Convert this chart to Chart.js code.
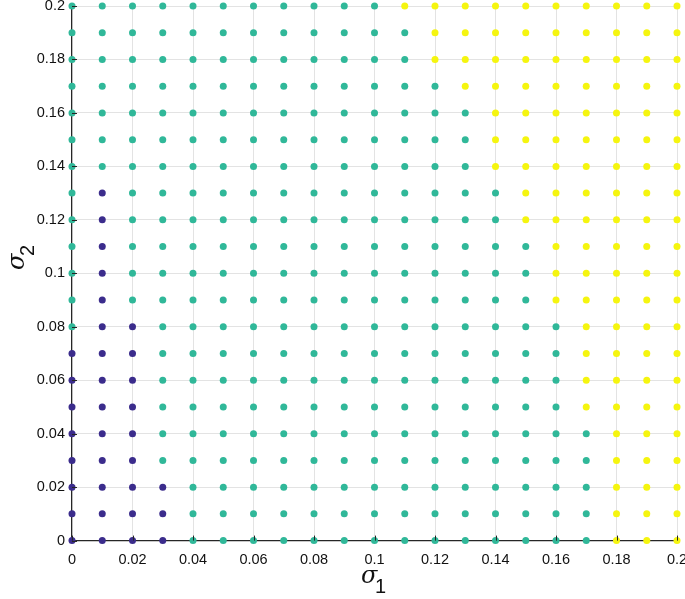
<!DOCTYPE html>
<html>
<head>
<meta charset="utf-8">
<script src="https://cdn.jsdelivr.net/npm/chart.js@4/dist/chart.umd.min.js"></script>
<style>
  html, body { margin: 0; padding: 0; background: #fff; }
  #wrap { width: 685px; height: 599px; position: relative; }
</style>
</head>
<body>
<div id="wrap"><canvas id="map-chart"></canvas></div>
<script>
// sigma grid values (both axes)
var sigmaValues = [0, 0.01, 0.02, 0.03, 0.04, 0.05, 0.06, 0.07, 0.08, 0.09, 0.1,
  0.11, 0.12, 0.13, 0.14, 0.15, 0.16, 0.17, 0.18, 0.19, 0.2];

// tick labels
var tickLabels = ["0", "0.02", "0.04", "0.06", "0.08", "0.1", "0.12", "0.14", "0.16", "0.18", "0.2"];

// class of each point, rows from sigma2 = 0.2 (top) down to 0 (bottom),
// columns sigma1 = 0 .. 0.2   (B = dark blue, T = teal, Y = yellow)
var classRows = [
  "TTTTTTTTTTTYYYYYYYYYY", // 0.20
  "TTTTTTTTTTTTYYYYYYYYY", // 0.19
  "TTTTTTTTTTTTYYYYYYYYY", // 0.18
  "TTTTTTTTTTTTTYYYYYYYY", // 0.17
  "TTTTTTTTTTTTTTYYYYYYY", // 0.16
  "TTTTTTTTTTTTTTYYYYYYY", // 0.15
  "TTTTTTTTTTTTTTYYYYYYY", // 0.14
  "TBTTTTTTTTTTTTTYYYYYY", // 0.13
  "TBTTTTTTTTTTTTTYYYYYY", // 0.12
  "TBTTTTTTTTTTTTTTYYYYY", // 0.11
  "TBTTTTTTTTTTTTTTYYYYY", // 0.10
  "TBTTTTTTTTTTTTTTYYYYY", // 0.09
  "TBBTTTTTTTTTTTTTTYYYY", // 0.08
  "BBBTTTTTTTTTTTTTTYYYY", // 0.07
  "BBBTTTTTTTTTTTTTTYYYY", // 0.06
  "BBBTTTTTTTTTTTTTTYYYY", // 0.05
  "BBBTTTTTTTTTTTTTTTYYY", // 0.04
  "BBBTTTTTTTTTTTTTTTYYY", // 0.03
  "BBBBTTTTTTTTTTTTTTYYY", // 0.02
  "BBBBTTTTTTTTTTTTTTYYY", // 0.01
  "BBBBTTTTTTTTTTTTTTYYY"  // 0.00
];

var classNames = ["B", "T", "Y"];
var classColors = { B: "#3b2c8c", T: "#30b899", Y: "#f5f50f" };

function pointsFor(cls) {
  var pts = [];
  classRows.forEach(function (row, r) {
    var y = sigmaValues[sigmaValues.length - 1 - r];
    for (var c = 0; c < row.length; c++) {
      if (row[c] === cls) pts.push({ x: sigmaValues[c], y: y });
    }
  });
  return pts;
}

// inward MATLAB-style ticks and the sigma axis titles
var axisDecor = {
  id: "axisDecor",
  afterDraw: function (chart) {
    var ctx = chart.ctx;
    var xs = chart.scales.x, ys = chart.scales.y;
    var area = chart.chartArea;
    ctx.save();
    ctx.strokeStyle = "#262626";
    ctx.lineWidth = 1;
    tickLabels.forEach(function (t) {
      var v = parseFloat(t);
      var px = Math.round(xs.getPixelForValue(v)) + 0.5;
      ctx.beginPath(); ctx.moveTo(px, area.bottom); ctx.lineTo(px, area.bottom - 5); ctx.stroke();
      var py = Math.round(ys.getPixelForValue(v)) + 0.5;
      ctx.beginPath(); ctx.moveTo(area.left, py); ctx.lineTo(area.left + 5, py); ctx.stroke();
    });
    ctx.fillStyle = "#111";
    ctx.textBaseline = "alphabetic";
    // x title: sigma_1
    ctx.font = "italic 24px 'DejaVu Serif', serif";
    ctx.fillText("σ", 361, 583);
    ctx.font = "20px 'Liberation Sans', Arial, sans-serif";
    ctx.fillText("1", 375, 593);
    // y title: sigma_2 (rotated)
    ctx.translate(24, 270);
    ctx.rotate(-Math.PI / 2);
    ctx.font = "italic 24px 'DejaVu Serif', serif";
    ctx.fillText("σ", 0, 0);
    ctx.font = "20px 'Liberation Sans', Arial, sans-serif";
    ctx.fillText("2", 14, 10);
    ctx.restore();
  }
};

var tickFont = { family: "'Liberation Sans', Arial, sans-serif", size: 14.5 };

var cfg = {
  type: "scatter",
  data: {
    datasets: classNames.map(function (cls) {
      return {
        label: cls,
        data: pointsFor(cls),
        backgroundColor: classColors[cls],
        borderWidth: 0,
        pointRadius: 3.5,
        pointHoverRadius: 3.5,
        clip: false
      };
    })
  },
  options: {
    responsive: true,
    maintainAspectRatio: false,
    animation: false,
    layout: { padding: { left: 0, right: 8, top: 6, bottom: 19 } },
    plugins: { legend: { display: false }, tooltip: { enabled: false } },
    scales: {
      x: {
        type: "linear",
        min: 0, max: 0.2,
        afterFit: function (s) { s.paddingRight = 0; s.paddingLeft = 0; },
        afterBuildTicks: function (s) {
          s.ticks = tickLabels.map(function (t) { return { value: parseFloat(t) }; });
        },
        ticks: {
          color: "#111", font: tickFont, padding: 11, maxRotation: 0,
          callback: function (v) { return tickLabels.find(function (t) { return parseFloat(t) === v; }) || ""; }
        },
        grid: { color: "#e3e3e3", drawTicks: false },
        border: { display: true, color: "#262626", width: 1.2 }
      },
      y: {
        type: "linear",
        min: 0, max: 0.2,
        afterFit: function (s) { s.width = 72; s.paddingTop = 0; s.paddingBottom = 0; },
        afterBuildTicks: function (s) {
          s.ticks = tickLabels.map(function (t) { return { value: parseFloat(t) }; });
        },
        ticks: {
          color: "#111", font: tickFont, padding: 7,
          callback: function (v) { return tickLabels.find(function (t) { return parseFloat(t) === v; }) || ""; }
        },
        grid: { color: "#e3e3e3", drawTicks: false },
        border: { display: true, color: "#262626", width: 1.2 }
      }
    }
  },
  plugins: [axisDecor]
};

var ctx = document.getElementById("map-chart").getContext("2d");
window.mapChart = new Chart(ctx, cfg);
</script>
</body>
</html>
